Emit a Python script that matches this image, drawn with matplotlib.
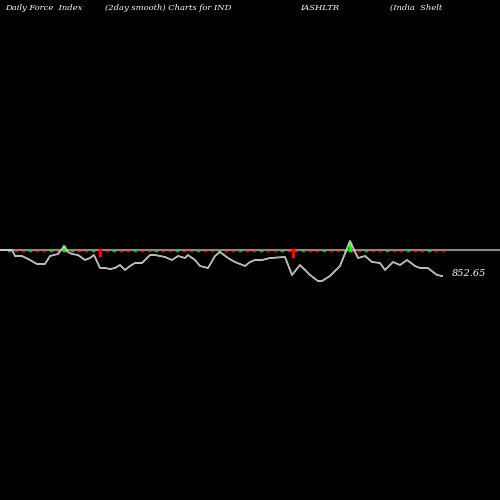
import numpy as np
import matplotlib
matplotlib.use("Agg")
import matplotlib.pyplot as plt

# price line (x position, level)
px = [0, 12, 15, 22, 30, 37, 45, 50, 58, 62, 64, 68, 72, 78, 85, 90, 94, 100, 105, 110,
      115, 120, 125, 130, 135, 142, 150, 155, 165, 172, 178, 185, 188, 195, 200, 208, 215,
      220, 228, 235, 240, 245, 250, 255, 262, 270, 285, 292, 300, 310, 318, 322, 330, 340,
      350, 358, 365, 372, 380, 385, 393, 400, 407, 415, 420, 428, 433, 437, 442]
py = [250, 250, 256, 256, 260, 264, 264, 256, 254, 249, 246, 252, 254, 255, 260, 258, 255,
      268, 268, 269, 268, 265, 270, 266, 263, 263, 255, 255, 257, 260, 256, 258, 255, 260,
      266, 268, 256, 252, 258, 262, 264, 266, 262, 260, 260, 258, 257, 275, 265, 275, 281,
      281, 276, 266, 241, 258, 256, 262, 263, 270, 262, 265, 260, 266, 268, 268, 272, 275, 276]

# small force bars around the zero line (x, height, sign)
bx = list(range(8, 445, 7))
bh = [1.5] * len(bx)
bs = [1 if i % 3 == 0 else -1 for i in range(len(bx))]
big = {100: (-5, -1), 293: (-6, -1), 350: (6, 1), 64: (3, 1)}

fig = plt.figure(figsize=(5, 5), dpi=100, facecolor="black")
ax = fig.add_axes([0, 0, 1, 1], facecolor="black")
ax.set_xlim(0, 500)
ax.set_ylim(500, 0)
ax.axis("off")

ax.axhline(250, color="#888888", lw=1.5)
for x, h, s in zip(bx, bh, bs):
    ax.plot([x, x + 2], [250 + 1, 250 + 1], color="red" if s < 0 else "#00cc00", lw=1)
for x, (h, s) in big.items():
    ax.plot([x, x], [250, 250 - h], color="red" if s < 0 else "#00ff00", lw=2.5)

ax.plot(px, py, color="white", lw=1.2)
ax.plot(px, py, color="#999999", lw=0.6)

tk = dict(color="white", fontsize=6, family="DejaVu Serif", style="italic", va="center")
ax.text(5, 8, "Daily Force  Index", **tk)
ax.text(105, 8, "(2day smooth) Charts for IND", **tk)
ax.text(300, 8, "IASHLTR", **tk)
ax.text(390, 8, "(India  Shelt", **tk)
ax.text(452, 273, "852.65", color="white", fontsize=7, family="DejaVu Serif",
        style="italic", va="center")

fig.savefig("out.png", dpi=100, facecolor="black")
